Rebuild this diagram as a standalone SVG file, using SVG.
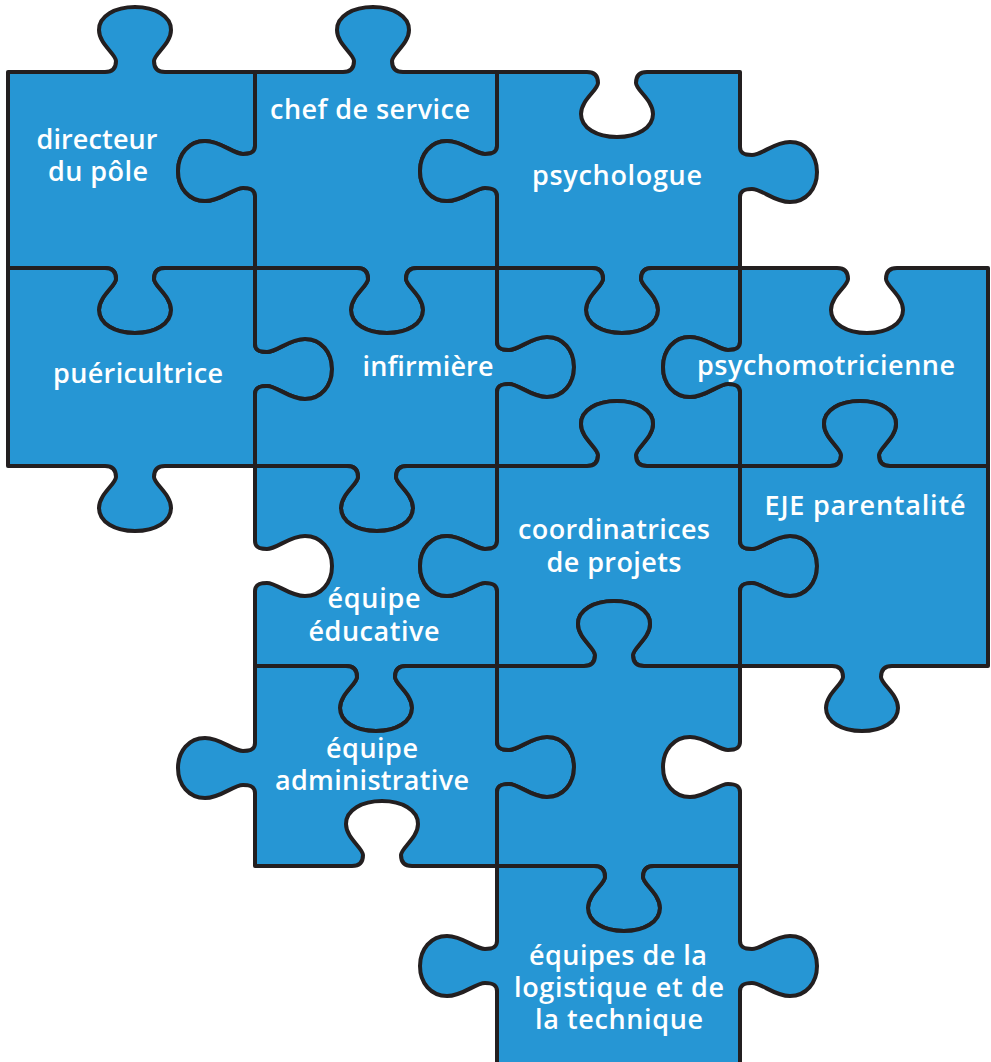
<svg xmlns="http://www.w3.org/2000/svg" width="991" height="1062" viewBox="0 0 991 1062">
<style>
.pc{fill:#2696d4;stroke:#231f20;stroke-width:4;stroke-linejoin:round}
.lb{fill:#ffffff;font-family:"Open Sans","Noto Sans",sans-serif;font-weight:600;font-size:27px;text-anchor:middle}
</style>
<rect width="991" height="1062" fill="#ffffff"/>
<g id="p-directeur">
<path class="pc" d="M8,72 L105,72 C113,72 116,68 116,61 C116,54 99,44 99,30 C99,16 115,7 135,7 C155,7 171,16 171,30 C171,44 154,54 154,61 C154,68 157,72 165,72 L255,72 L255,146 C255,152 251,154 243,154 C233,154 221,141 205,141 C189,141 178,154 178,171 C178,188 189,201 205,201 C221,201 233,188 243,188 C251,188 255,190 255,196 L255,268 L165,268 C157,268 154,272 154,279 C154,286 171,296 171,310 C171,324 155,333 135,333 C115,333 99,324 99,310 C99,296 116,286 116,279 C116,272 113,268 105,268 L8,268 Z"/>
<text class="lb" x="97" y="149" textLength="121">directeur</text>
<text class="lb" x="98" y="181" textLength="100">du pôle</text>
</g>
<g id="p-chef">
<path class="pc" d="M255,72 L343,72 C351,72 354,68 354,61 C354,54 337,44 337,30 C337,16 353,7 373,7 C393,7 409,16 409,30 C409,44 392,54 392,61 C392,68 395,72 403,72 L497,72 L497,146 C497,152 493,154 485,154 C475,154 463,141 447,141 C431,141 420,154 420,171 C420,188 431,201 447,201 C463,201 475,188 485,188 C493,188 497,190 497,196 L497,268 L417,268 C409,268 406,272 406,279 C406,286 423,296 423,310 C423,324 407,333 387,333 C367,333 351,324 351,310 C351,296 368,286 368,279 C368,272 365,268 357,268 L255,268 L255,196 C255,190 251,188 243,188 C233,188 221,201 205,201 C189,201 178,188 178,171 C178,154 189,141 205,141 C221,141 233,154 243,154 C251,154 255,152 255,146 Z"/>
<text class="lb" x="370" y="119" textLength="200">chef de service</text>
</g>
<g id="p-psychologue">
<path class="pc" d="M497,72 L587,72 C595,72 598,76 598,83 C598,90 581,100 581,114 C581,128 597,137 617,137 C637,137 653,128 653,114 C653,100 636,90 636,83 C636,76 639,72 647,72 L740,72 L740,147 C740,153 744,155 752,155 C762,155 774,142 790,142 C806,142 817,155 817,172 C817,189 806,202 790,202 C774,202 762,189 752,189 C744,189 740,191 740,197 L740,268 L652,268 C644,268 641,272 641,279 C641,286 658,296 658,310 C658,324 642,333 622,333 C602,333 586,324 586,310 C586,296 603,286 603,279 C603,272 600,268 592,268 L497,268 L497,196 C497,190 493,188 485,188 C475,188 463,201 447,201 C431,201 420,188 420,171 C420,154 431,141 447,141 C463,141 475,154 485,154 C493,154 497,152 497,146 Z"/>
<text class="lb" x="617" y="185" textLength="170">psychologue</text>
</g>
<g id="p-puericultrice">
<path class="pc" d="M8,268 L105,268 C113,268 116,272 116,279 C116,286 99,296 99,310 C99,324 115,333 135,333 C155,333 171,324 171,310 C171,296 154,286 154,279 C154,272 157,268 165,268 L255,268 L255,344 C255,350 259,352 267,352 C277,352 289,339 305,339 C321,339 332,352 332,369 C332,386 321,399 305,399 C289,399 277,386 267,386 C259,386 255,388 255,394 L255,466 L165,466 C157,466 154,470 154,477 C154,484 171,494 171,508 C171,522 155,531 135,531 C115,531 99,522 99,508 C99,494 116,484 116,477 C116,470 113,466 105,466 L8,466 Z"/>
<text class="lb" x="138" y="383" textLength="170">puéricultrice</text>
</g>
<g id="p-infirmiere">
<path class="pc" d="M255,268 L357,268 C365,268 368,272 368,279 C368,286 351,296 351,310 C351,324 367,333 387,333 C407,333 423,324 423,310 C423,296 406,286 406,279 C406,272 409,268 417,268 L497,268 L497,342 C497,348 501,350 509,350 C519,350 531,337 547,337 C563,337 574,350 574,367 C574,384 563,397 547,397 C531,397 519,384 509,384 C501,384 497,386 497,392 L497,466 L407,466 C399,466 396,470 396,477 C396,484 413,494 413,508 C413,522 397,531 377,531 C357,531 341,522 341,508 C341,494 358,484 358,477 C358,470 355,466 347,466 L255,466 L255,394 C255,388 259,386 267,386 C277,386 289,399 305,399 C321,399 332,386 332,369 C332,352 321,339 305,339 C289,339 277,352 267,352 C259,352 255,350 255,344 Z"/>
<text class="lb" x="428" y="376" textLength="131">infirmière</text>
</g>
<g id="p-centre-haut">
<path class="pc" d="M497,268 L592,268 C600,268 603,272 603,279 C603,286 586,296 586,310 C586,324 602,333 622,333 C642,333 658,324 658,310 C658,296 641,286 641,279 C641,272 644,268 652,268 L740,268 L740,342 C740,348 736,350 728,350 C718,350 706,337 690,337 C674,337 663,350 663,367 C663,384 674,397 690,397 C706,397 718,384 728,384 C736,384 740,386 740,392 L740,466 L647,466 C639,466 636,462 636,455 C636,448 653,438 653,424 C653,410 637,401 617,401 C597,401 581,410 581,424 C581,438 598,448 598,455 C598,462 595,466 587,466 L497,466 L497,392 C497,386 501,384 509,384 C519,384 531,397 547,397 C563,397 574,384 574,367 C574,350 563,337 547,337 C531,337 519,350 509,350 C501,350 497,348 497,342 Z"/>
</g>
<g id="p-psychomotricienne">
<path class="pc" d="M740,268 L837,268 C845,268 848,272 848,279 C848,286 831,296 831,310 C831,324 847,333 867,333 C887,333 903,324 903,310 C903,296 886,286 886,279 C886,272 889,268 897,268 L988,268 L988,466 L890,466 C882,466 879,462 879,455 C879,448 896,438 896,424 C896,410 880,401 860,401 C840,401 824,410 824,424 C824,438 841,448 841,455 C841,462 838,466 830,466 L740,466 L740,392 C740,386 736,384 728,384 C718,384 706,397 690,397 C674,397 663,384 663,367 C663,350 674,337 690,337 C706,337 718,350 728,350 C736,350 740,348 740,342 Z"/>
<text class="lb" x="826" y="375" textLength="258">psychomotricienne</text>
</g>
<g id="p-equipe-educative">
<path class="pc" d="M255,466 L347,466 C355,466 358,470 358,477 C358,484 341,494 341,508 C341,522 357,531 377,531 C397,531 413,522 413,508 C413,494 396,484 396,477 C396,470 399,466 407,466 L497,466 L497,541 C497,547 493,549 485,549 C475,549 463,536 447,536 C431,536 420,549 420,566 C420,583 431,596 447,596 C463,596 475,583 485,583 C493,583 497,585 497,591 L497,666 L406,666 C398,666 395,670 395,677 C395,684 412,694 412,708 C412,722 396,731 376,731 C356,731 340,722 340,708 C340,694 357,684 357,677 C357,670 354,666 346,666 L255,666 L255,591 C255,585 259,583 267,583 C277,583 289,596 305,596 C321,596 332,583 332,566 C332,549 321,536 305,536 C289,536 277,549 267,549 C259,549 255,547 255,541 Z"/>
<text class="lb" x="374" y="608" textLength="93">équipe</text>
<text class="lb" x="374" y="641" textLength="131">éducative</text>
</g>
<g id="p-coordinatrices">
<path class="pc" d="M497,466 L587,466 C595,466 598,462 598,455 C598,448 581,438 581,424 C581,410 597,401 617,401 C637,401 653,410 653,424 C653,438 636,448 636,455 C636,462 639,466 647,466 L740,466 L740,541 C740,547 744,549 752,549 C762,549 774,536 790,536 C806,536 817,549 817,566 C817,583 806,596 790,596 C774,596 762,583 752,583 C744,583 740,585 740,591 L740,666 L644,666 C636,666 633,662 633,655 C633,648 650,638 650,624 C650,610 634,601 614,601 C594,601 578,610 578,624 C578,638 595,648 595,655 C595,662 592,666 584,666 L497,666 L497,591 C497,585 493,583 485,583 C475,583 463,596 447,596 C431,596 420,583 420,566 C420,549 431,536 447,536 C463,536 475,549 485,549 C493,549 497,547 497,541 Z"/>
<text class="lb" x="614" y="539" textLength="192">coordinatrices</text>
<text class="lb" x="614" y="572" textLength="135">de projets</text>
</g>
<g id="p-eje">
<path class="pc" d="M740,466 L830,466 C838,466 841,462 841,455 C841,448 824,438 824,424 C824,410 840,401 860,401 C880,401 896,410 896,424 C896,438 879,448 879,455 C879,462 882,466 890,466 L988,466 L988,666 L892,666 C884,666 881,670 881,677 C881,684 898,694 898,708 C898,722 882,731 862,731 C842,731 826,722 826,708 C826,694 843,684 843,677 C843,670 840,666 832,666 L740,666 L740,591 C740,585 744,583 752,583 C762,583 774,596 790,596 C806,596 817,583 817,566 C817,549 806,536 790,536 C774,536 762,549 752,549 C744,549 740,547 740,541 Z"/>
<text class="lb" x="865" y="515" textLength="201">EJE parentalité</text>
</g>
<g id="p-equipe-administrative">
<path class="pc" d="M255,666 L346,666 C354,666 357,670 357,677 C357,684 340,694 340,708 C340,722 356,731 376,731 C396,731 412,722 412,708 C412,694 395,684 395,677 C395,670 398,666 406,666 L497,666 L497,742 C497,748 501,750 509,750 C519,750 531,737 547,737 C563,737 574,750 574,767 C574,784 563,797 547,797 C531,797 519,784 509,784 C501,784 497,786 497,792 L497,866 L412,866 C404,866 401,862 401,855 C401,848 418,838 418,824 C418,810 402,801 382,801 C362,801 346,810 346,824 C346,838 363,848 363,855 C363,862 360,866 352,866 L255,866 L255,793 C255,787 251,785 243,785 C233,785 221,798 205,798 C189,798 178,785 178,768 C178,751 189,738 205,738 C221,738 233,751 243,751 C251,751 255,749 255,743 Z"/>
<text class="lb" x="372" y="758" textLength="92">équipe</text>
<text class="lb" x="372" y="790" textLength="194">administrative</text>
</g>
<g id="p-centre-bas">
<path class="pc" d="M497,666 L584,666 C592,666 595,662 595,655 C595,648 578,638 578,624 C578,610 594,601 614,601 C634,601 650,610 650,624 C650,638 633,648 633,655 C633,662 636,666 644,666 L740,666 L740,742 C740,748 736,750 728,750 C718,750 706,737 690,737 C674,737 663,750 663,767 C663,784 674,797 690,797 C706,797 718,784 728,784 C736,784 740,786 740,792 L740,866 L654,866 C646,866 643,870 643,877 C643,884 660,894 660,908 C660,922 644,931 624,931 C604,931 588,922 588,908 C588,894 605,884 605,877 C605,870 602,866 594,866 L497,866 L497,792 C497,786 501,784 509,784 C519,784 531,797 547,797 C563,797 574,784 574,767 C574,750 563,737 547,737 C531,737 519,750 509,750 C501,750 497,748 497,742 Z"/>
</g>
<g id="p-logistique">
<path class="pc" d="M497,866 L594,866 C602,866 605,870 605,877 C605,884 588,894 588,908 C588,922 604,931 624,931 C644,931 660,922 660,908 C660,894 643,884 643,877 C643,870 646,866 654,866 L740,866 L740,941 C740,947 744,949 752,949 C762,949 774,936 790,936 C806,936 817,949 817,966 C817,983 806,996 790,996 C774,996 762,983 752,983 C744,983 740,985 740,991 L740,1070 L497,1070 L497,991 C497,985 493,983 485,983 C475,983 463,996 447,996 C431,996 420,983 420,966 C420,949 431,936 447,936 C463,936 475,949 485,949 C493,949 497,947 497,941 Z"/>
<text class="lb" x="618" y="965" textLength="178">équipes de la</text>
<text class="lb" x="619" y="997" textLength="210">logistique et de</text>
<text class="lb" x="619" y="1029" textLength="168">la technique</text>
</g>
</svg>
